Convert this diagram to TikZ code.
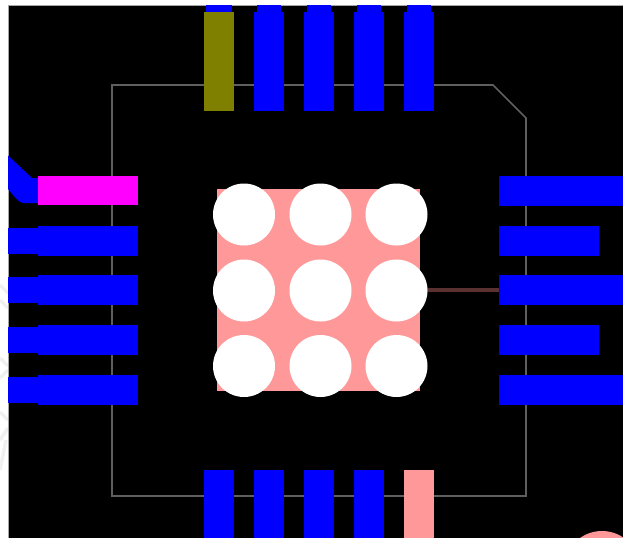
\documentclass[tikz,border=0pt]{standalone}
\definecolor{padblue}{RGB}{0,0,255}
\definecolor{padolive}{RGB}{128,128,0}
\definecolor{padpink}{RGB}{255,153,153}
\definecolor{padmagenta}{RGB}{255,0,255}
\definecolor{tracebrown}{RGB}{90,48,48}
\definecolor{ghostgray}{RGB}{240,240,240}
\definecolor{outlinegray}{RGB}{95,95,95}
\tikzset{
  bluepad/.style={fill=padblue},
  pinkpad/.style={fill=padpink},
  viahole/.style={fill=white},
  outline/.style={draw=outlinegray, line width=1pt, line join=miter},
  ghost/.style={draw=ghostgray, line width=2pt}
}

\begin{document}
\begin{tikzpicture}[x=0.02cm, y=-0.02cm]
  \useasboundingbox (0,0) rectangle (623,538);
  \clip (0,0) rectangle (623,538);

  % Faint marks outside the board
  \draw[ghost] (0,285) -- (8,293);
  \draw[ghost] (0,300) -- (8,308);
  \draw[ghost] (0,358) -- (8,366);
  \draw[ghost] (0,378) -- (8,370);
  \draw[ghost] (0,412) -- (8,420);
  \draw[ghost] (0,440) -- (8,428);
  \draw[ghost] (0,470) -- (6,440);

  % Board background
  \fill[black] (8,5) rectangle (623,538);
  \draw[gray!70, line width=0.4pt] (8,538) -- (8,5) -- (623,5);

  % Package outline
  \draw[outline] (112,85) -- (493,85) -- (526,118) -- (526,496) -- (112,496) -- cycle;
  \draw[outline, line width=1.6pt] (112,85) -- (493,85);

  % Top pads
  \fill[padblue] (206,5) rectangle (232,12);
  \fill[padolive] (204,12) rectangle (233.5,111);
  \foreach \x in {254,304,354,404} {
    \fill[bluepad] (\x,12) rectangle (\x+29.5,111);
    \fill[bluepad] (\x+2.5,5) rectangle (\x+27,12);
  }

  % Left pads
  \fill[bluepad] (8,155.5) -- (32,178) -- (38,178) -- (38,203) -- (23,203) .. controls (18,202) and (14,196) .. (8,189) -- cycle;
  \fill[padmagenta] (38,176) rectangle (138,205);
  \foreach \y in {226,275,325,375} {
    \fill[bluepad] (8,\y+2) rectangle (38,\y+28);
    \fill[bluepad] (38,\y) rectangle (138,\y+30);
  }

  % Right pads
  \foreach \y/\xend in {176/623, 226/599, 275/623, 325/599, 375/623} {
    \fill[bluepad] (498.5,\y) rectangle (\xend,\y+30);
  }
  \draw[tracebrown, line width=2pt] (420,290) -- (499,290);

  % Bottom pads
  \foreach \x in {204,254,304,354} {
    \fill[bluepad] (\x,470) rectangle (\x+29.5,538);
  }
  \fill[pinkpad] (403.5,470) rectangle (433.5,538);
  \fill[pinkpad] (602,569) circle (38);

  % Centre pad with vias
  \fill[pinkpad] (217,189) rectangle (420,391);
  \foreach \x in {244,320.5,396.5} {
    \foreach \y in {214.5,290.5,366} {
      \fill[viahole] (\x,\y) circle (31);
    }
  }
\end{tikzpicture}
\end{document}
